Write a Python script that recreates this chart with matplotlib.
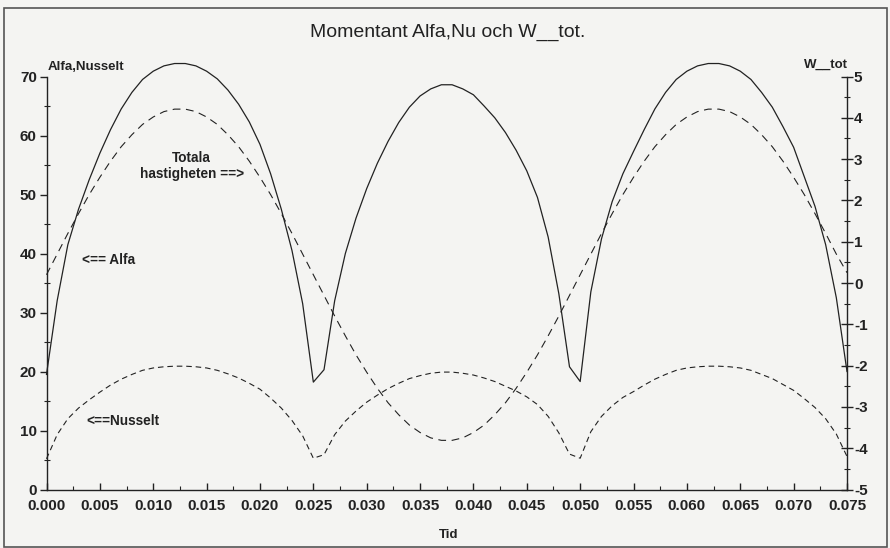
import matplotlib
matplotlib.use("Agg")
import matplotlib.pyplot as plt
from matplotlib.ticker import MultipleLocator, FormatStrFormatter
from matplotlib.patches import Rectangle

plt.rcParams['font.family'] = ['Liberation Sans', 'DejaVu Sans']
plt.rcParams['axes.unicode_minus'] = False

# time axis (s)
tid = [round(0.001 * k, 3) for k in range(76)]

# Alfa (left axis)
alfa = [19.5, 32.0, 41.5, 47.5, 52.5, 57.0, 61.0, 64.5, 67.3, 69.5, 70.9, 71.8, 72.2,
        72.2, 71.8, 70.9, 69.6, 67.7, 65.3, 62.3, 58.5, 53.5, 47.5, 40.5, 31.5, 18.2,
        20.3, 32.0, 40.0, 46.0, 51.0, 55.3, 59.0, 62.2, 64.8, 66.7, 67.9, 68.6, 68.6,
        67.9, 66.9, 65.0, 63.0, 60.5, 57.5, 54.0, 49.5, 42.8, 33.2, 20.8, 18.3,
        33.5, 42.5, 48.8, 53.5, 57.3, 61.0, 64.5, 67.3, 69.5, 70.9, 71.8, 72.2,
        72.2, 71.8, 70.9, 69.5, 67.3, 64.8, 61.5, 58.0, 53.0, 48.0, 41.5, 32.5, 20.0]

# Nusselt (left axis)
nusselt = [5.2, 9.3, 12.0, 13.8, 15.2, 16.5, 17.7, 18.7, 19.5, 20.2, 20.6, 20.8, 20.9,
           20.9, 20.8, 20.6, 20.2, 19.6, 18.9, 18.0, 17.0, 15.5, 13.8, 11.7, 9.1, 5.3,
           5.9, 9.3, 11.6, 13.3, 14.8, 16.0, 17.1, 18.0, 18.8, 19.3, 19.7, 19.9, 19.9,
           19.7, 19.4, 18.9, 18.3, 17.5, 16.7, 15.7, 14.4, 12.4, 9.6, 6.0, 5.3,
           9.8, 12.4, 14.2, 15.6, 16.6, 17.7, 18.7, 19.5, 20.2, 20.6, 20.8, 20.9,
           20.9, 20.8, 20.6, 20.2, 19.5, 18.8, 17.8, 16.8, 15.4, 13.9, 12.0, 9.4, 5.6]

# W_tot (right axis)
w_tot = [0.20, 0.70, 1.20, 1.68, 2.14, 2.56, 2.95, 3.30, 3.59, 3.84, 4.02, 4.15, 4.21,
         4.21, 4.15, 4.02, 3.84, 3.59, 3.30, 2.95, 2.56, 2.14, 1.68, 1.20, 0.70, 0.20,
         -0.30, -0.80, -1.28, -1.74, -2.16, -2.55, -2.90, -3.19, -3.44, -3.62, -3.75, -3.81, -3.81,
         -3.75, -3.62, -3.44, -3.19, -2.90, -2.55, -2.16, -1.74, -1.28, -0.80, -0.30, 0.20,
         0.70, 1.20, 1.68, 2.14, 2.56, 2.95, 3.30, 3.59, 3.84, 4.02, 4.15, 4.21,
         4.21, 4.15, 4.02, 3.84, 3.59, 3.30, 2.95, 2.56, 2.14, 1.68, 1.20, 0.70, 0.25]

title = "Momentant Alfa,Nu och W__tot."
left_label = "Alfa,Nusselt"
right_label = "W__tot"
x_label = "Tid"

W, H = 890, 548
fig = plt.figure(figsize=(W / 100, H / 100), dpi=100, facecolor='#f4f4f2')

left_px, right_px, top_px, bot_px = 46.5, 847.0, 76.5, 489.5
ax = fig.add_axes([left_px / W, 1 - bot_px / H, (right_px - left_px) / W, (bot_px - top_px) / H])
ax.patch.set_alpha(0)
ax2 = ax.twinx()
ax2.patch.set_alpha(0)

ink = '#222222'
ax.plot(tid, alfa, color=ink, lw=0.9, clip_on=False, zorder=3)
ax.plot(tid, nusselt, color=ink, lw=0.8, dashes=(5, 3.5), clip_on=False, zorder=3)
ax2.plot(tid, w_tot, color=ink, lw=0.8, dashes=(7, 5), clip_on=False, zorder=3)

ax.set_xlim(0, 0.075)
ax.set_ylim(0, 70)
ax2.set_ylim(-5, 5)

for a in (ax, ax2):
    a.spines['top'].set_visible(False)
    for s in a.spines.values():
        s.set_color(ink)
        s.set_linewidth(1.0)
ax.spines['right'].set_visible(False)
ax2.spines['left'].set_visible(False)
ax2.spines['bottom'].set_visible(False)

ax.xaxis.set_major_locator(MultipleLocator(0.005))
ax.xaxis.set_minor_locator(MultipleLocator(0.0025))
ax.xaxis.set_major_formatter(FormatStrFormatter('%.3f'))
ax.yaxis.set_major_locator(MultipleLocator(10))
ax.yaxis.set_minor_locator(MultipleLocator(5))
ax2.yaxis.set_major_locator(MultipleLocator(1))
ax2.yaxis.set_minor_locator(MultipleLocator(0.5))

ax.tick_params(axis='x', which='major', direction='in', length=5, width=1, pad=7, colors=ink)
ax.tick_params(axis='x', which='minor', direction='in', length=3, width=0.8, colors=ink)
ax.tick_params(axis='y', which='major', direction='out', length=5, width=1, pad=2, colors=ink)
ax.tick_params(axis='y', which='minor', direction='inout', length=5, width=0.8, colors=ink)
ax2.tick_params(axis='y', which='major', direction='inout', length=8, width=1, pad=1, colors=ink)
ax2.tick_params(axis='y', which='minor', direction='inout', length=5, width=0.8, colors=ink)
for lab in ax.get_xticklabels() + ax.get_yticklabels() + ax2.get_yticklabels():
    lab.set_fontweight('bold')
    lab.set_fontsize(11)
    lab.set_color(ink)

# labels and annotations
fig.text(448 / W, 1 - 32 / H, title, ha='center', va='center', fontsize=14, color=ink)
fig.text(48 / W, 1 - 67 / H, left_label, ha='left', va='center', fontsize=9.5, fontweight='bold', color=ink)
fig.text(848 / W, 1 - 65 / H, right_label, ha='right', va='center', fontsize=9.5, fontweight='bold', color=ink)
fig.text(449 / W, 1 - 535 / H, x_label, ha='center', va='center', fontsize=9.5, fontweight='bold', color=ink)

ax.text(0.0136, 54.8, "Totala\nhastigheten ==>", ha='center', va='center', fontsize=9.8,
        fontweight='bold', color=ink, linespacing=1.2)
ax.text(0.0033, 38.9, "<== Alfa", ha='left', va='center', fontsize=9.8, fontweight='bold', color=ink)
ax.text(0.00376, 11.6, "<==Nusselt", ha='left', va='center', fontsize=9.8, fontweight='bold', color=ink)

# outer frame
fig.patches.append(Rectangle((4 / W, 1 - 547 / H), (887 - 4) / W, (547 - 8) / H,
                             transform=fig.transFigure, fill=False, edgecolor='#555555', lw=1.2))

fig.savefig("out.png", dpi=100, facecolor=fig.get_facecolor())
